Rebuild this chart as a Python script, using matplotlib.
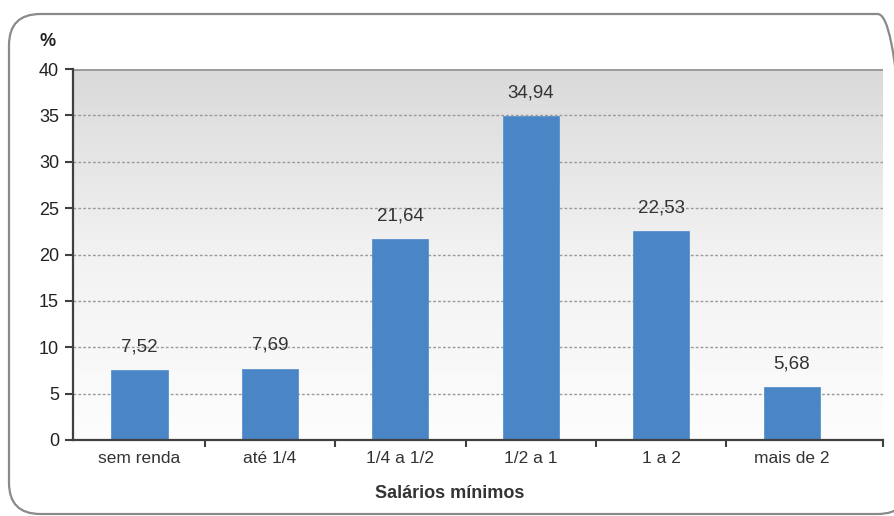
import numpy as np
import matplotlib
matplotlib.use("Agg")
import matplotlib.pyplot as plt
from matplotlib.patches import FancyBboxPatch
from matplotlib.colors import LinearSegmentedColormap

# --- data ------------------------------------------------------------------ #
CATEGORIES = ["sem renda", "até 1/4", "1/4 a 1/2", "1/2 a 1", "1 a 2", "mais de 2"]
VALUES = [7.52, 7.69, 21.64, 34.94, 22.53, 5.68]
LABELS = ["7,52", "7,69", "21,64", "34,94", "22,53", "5,68"]
YTICKS = [0, 5, 10, 15, 20, 25, 30, 35, 40]

BLUE = "#4a86c5"
DARK = "#404040"
plt.rcParams["font.family"] = ["Liberation Sans", "DejaVu Sans"]

W, H = 894, 516
fig = plt.figure(figsize=(W / 100, H / 100), dpi=100)
fig.patch.set_facecolor("white")

# rounded frame around the chart (runs off the right/bottom edge)
frame = FancyBboxPatch((9 / W, 2 / H), 900 / W, 500 / H,
                       boxstyle="round,pad=0,rounding_size=0.035",
                       transform=fig.transFigure, facecolor="none",
                       edgecolor="#8a8a8a", lw=1.6, mutation_aspect=W / H)
fig.add_artist(frame)

ax = fig.add_axes([73 / W, 1 - 440 / H, (883 - 73) / W, (440 - 69) / H])
x = np.arange(len(CATEGORIES))
xlim = (-0.51, 5.70)

# gradient background: grey at top -> white at bottom
grad = LinearSegmentedColormap.from_list("bg", ["#fdfdfd", "#f2f2f2", "#dadada"])
ax.imshow(np.linspace(0, 1, 256).reshape(-1, 1), extent=[xlim[0], xlim[1], 0, 40],
          origin="lower", aspect="auto", cmap=grad, zorder=0)

for y in YTICKS[1:-1]:
    ax.axhline(y, color="#9a9a9a", lw=1.0, ls=(0, (2, 1.5)), zorder=1)
ax.axhline(40, color="#9c9c9c", lw=2.2, zorder=1)

ax.bar(x, VALUES, width=0.43, color=BLUE, edgecolor="#5b93cc", lw=0.6, zorder=2)
for xi, v, lab in zip(x, VALUES, LABELS):
    ax.text(xi, v + 1.6, lab, ha="center", va="bottom", fontsize=13.5, color="#333333")

ax.set_xlim(*xlim)
ax.set_ylim(0, 40)
ax.set_yticks(YTICKS)
ax.set_yticklabels([str(t) for t in YTICKS], fontsize=13, color="#222222")
ax.set_xticks(list(np.arange(0.5, 5.5, 1.0)) + [xlim[1]])
ax.set_xticklabels([])
ax.set_xticks(x, minor=True)
ax.set_xticklabels(CATEGORIES, minor=True, fontsize=12.5, color="#333333")
ax.tick_params(axis="x", which="minor", length=0, pad=8)
ax.tick_params(axis="x", which="major", length=5, width=1.5, color=DARK, direction="out")
ax.tick_params(axis="y", length=6, width=1.5, color=DARK, pad=4)

for s in ["top", "right"]:
    ax.spines[s].set_visible(False)
for s in ["left", "bottom"]:
    ax.spines[s].set_color(DARK)
    ax.spines[s].set_linewidth(1.6)

fig.text(48 / W, 1 - 42 / H, "%", ha="center", va="center", fontsize=13,
         fontweight="bold", color="#222222")
fig.text(450 / W, 1 - 494 / H, "Salários mínimos", ha="center", va="center",
         fontsize=13, fontweight="bold", color="#333333")

fig.savefig("out.png", dpi=100)
